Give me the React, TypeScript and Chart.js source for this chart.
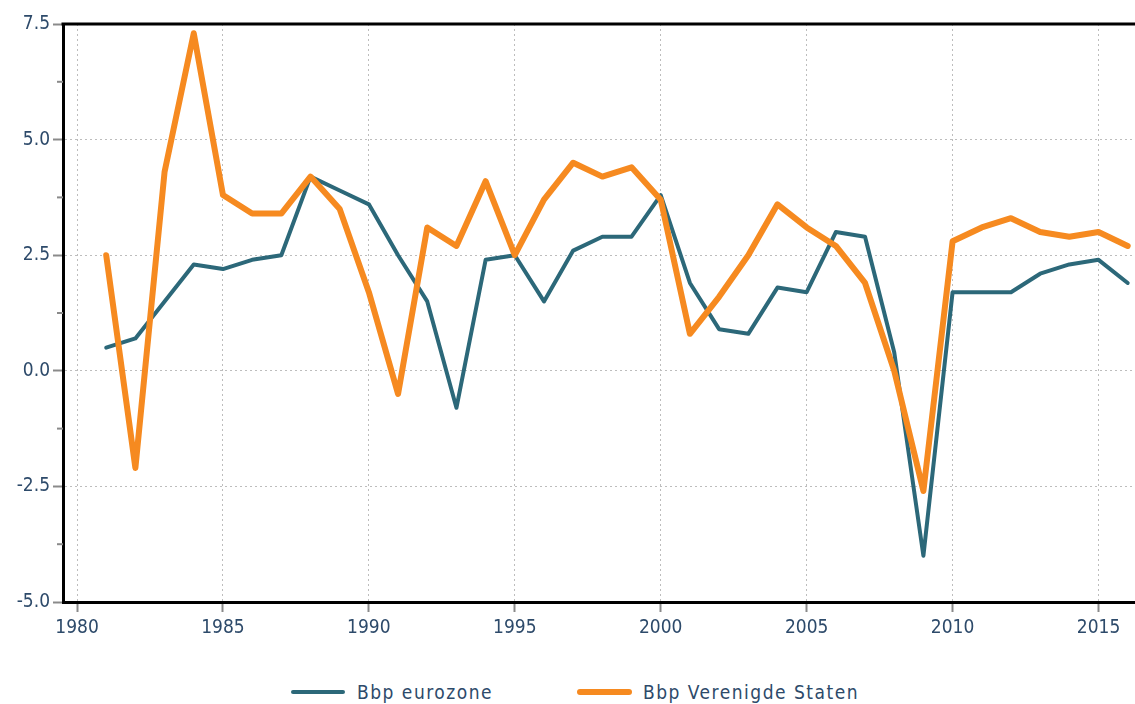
import React, { useEffect, useRef } from "react";
import { Chart, registerables } from "chart.js";

Chart.register(...registerables);

const years = [
  1981, 1982, 1983, 1984, 1985, 1986, 1987, 1988, 1989, 1990,
  1991, 1992, 1993, 1994, 1995, 1996, 1997, 1998, 1999, 2000,
  2001, 2002, 2003, 2004, 2005, 2006, 2007, 2008, 2009, 2010,
  2011, 2012, 2013, 2014, 2015, 2016,
];

const eurozone = [
  0.5, 0.7, 1.5, 2.3, 2.2, 2.4, 2.5, 4.2, 3.9, 3.6,
  2.5, 1.5, -0.8, 2.4, 2.5, 1.5, 2.6, 2.9, 2.9, 3.8,
  1.9, 0.9, 0.8, 1.8, 1.7, 3.0, 2.9, 0.4, -4.0, 1.7,
  1.7, 1.7, 2.1, 2.3, 2.4, 1.9,
];

const verenigdeStaten = [
  2.5, -2.1, 4.3, 7.3, 3.8, 3.4, 3.4, 4.2, 3.5, 1.7,
  -0.5, 3.1, 2.7, 4.1, 2.5, 3.7, 4.5, 4.2, 4.4, 3.7,
  0.8, 1.6, 2.5, 3.6, 3.1, 2.7, 1.9, 0.0, -2.6, 2.8,
  3.1, 3.3, 3.0, 2.9, 3.0, 2.7,
];

const seriesLabels = ["Bbp eurozone", "Bbp Verenigde Staten"];
const xTicks = [1980, 1985, 1990, 1995, 2000, 2005, 2010, 2015];
const yTicks = [-5, -2.5, 0, 2.5, 5, 7.5];
const yMinorTicks = [-3.75, -1.25, 1.25, 3.75, 6.25];
const xRange = [1979.52, 2016.25];
const yRange = [-5, 7.5];

const TEAL = "#2c6879";
const ORANGE = "#f68a20";
const LABEL = "#2d4a6a";
const FONT = "'DejaVu Sans Condensed', 'DejaVu Sans', sans-serif";

const framePlugin = {
  id: "frame",
  afterDraw(chart: any) {
    const { ctx, chartArea } = chart;
    const ys = chart.scales.y;
    ctx.save();
    ctx.strokeStyle = "#8a8a8a";
    ctx.lineWidth = 2;
    yMinorTicks.forEach((v) => {
      const p = ys.getPixelForValue(v);
      ctx.beginPath();
      ctx.moveTo(chartArea.left - 6, p);
      ctx.lineTo(chartArea.left, p);
      ctx.stroke();
    });
    ctx.strokeStyle = "#000";
    ctx.lineWidth = 3;
    ctx.beginPath();
    ctx.moveTo(chartArea.left - 1.5, chartArea.top);
    ctx.lineTo(chartArea.right, chartArea.top);
    ctx.stroke();
    ctx.restore();
  },
};

export default function App() {
  const ref = useRef<HTMLCanvasElement>(null);

  useEffect(() => {
    if (!ref.current) return;
    const chart = new Chart(ref.current, {
      type: "line",
      data: {
        datasets: [
          {
            label: seriesLabels[0],
            data: years.map((x, i) => ({ x, y: eurozone[i] })),
            borderColor: TEAL,
            borderWidth: 4,
            pointRadius: 0,
            tension: 0,
            borderJoinStyle: "round",
            borderCapStyle: "round",
            order: 2,
          },
          {
            label: seriesLabels[1],
            data: years.map((x, i) => ({ x, y: verenigdeStaten[i] })),
            borderColor: ORANGE,
            borderWidth: 6,
            pointRadius: 0,
            tension: 0,
            borderJoinStyle: "round",
            borderCapStyle: "round",
            order: 1,
          },
        ],
      },
      options: {
        animation: false,
        responsive: false,
        maintainAspectRatio: false,
        layout: { padding: { top: 24, right: 0, left: 0, bottom: 0 } },
        plugins: {
          legend: { display: false },
          tooltip: { enabled: false },
        },
        scales: {
          x: {
            type: "linear",
            min: xRange[0],
            max: xRange[1],
            afterBuildTicks: (s: any) => {
              s.ticks = xTicks.map((value) => ({ value }));
            },
            afterFit: (s: any) => {
              s.height = 43;
            },
            ticks: {
              color: LABEL,
              font: { family: FONT, size: 19 },
              padding: 5,
              maxRotation: 0,
              callback: (v: any) => String(v),
            },
            grid: {
              color: "#bdbdbd",
              lineWidth: 1,
              tickLength: 10,
              tickColor: "#8a8a8a",
              tickWidth: 2,
            },
            border: { color: "#000", width: 3, dash: [2, 3] },
          },
          y: {
            type: "linear",
            min: yRange[0],
            max: yRange[1],
            afterBuildTicks: (s: any) => {
              s.ticks = yTicks.map((value) => ({ value }));
            },
            afterFit: (s: any) => {
              s.width = 63;
            },
            ticks: {
              color: LABEL,
              font: { family: FONT, size: 19 },
              padding: 3,
              callback: (v: any) => Number(v).toFixed(1),
            },
            grid: {
              color: "#bdbdbd",
              lineWidth: 1,
              tickLength: 10,
              tickColor: "#8a8a8a",
              tickWidth: 2,
            },
            border: { color: "#000", width: 3, dash: [2, 3] },
          },
        },
      },
      plugins: [framePlugin],
    });
    return () => chart.destroy();
  }, []);

  const legendText: React.CSSProperties = {
    position: "absolute",
    top: 680,
    height: 24,
    lineHeight: "24px",
    fontFamily: "'DejaVu Sans Condensed', sans-serif",
    fontSize: 19,
    letterSpacing: "1.5px",
    color: LABEL,
    whiteSpace: "nowrap",
  };

  return (
    <div
      style={{
        position: "absolute",
        left: 0,
        top: 0,
        width: 1135,
        height: 704,
        background: "#fff",
        overflow: "hidden",
      }}
    >
      <canvas ref={ref} width={1135} height={645} style={{ display: "block" }} />
      <div style={{ position: "absolute", left: 291, top: 690, width: 54, height: 4, borderRadius: 2, background: TEAL }} />
      <div style={{ ...legendText, left: 357 }}>{seriesLabels[0]}</div>
      <div style={{ position: "absolute", left: 577, top: 689, width: 55, height: 6, borderRadius: 3, background: ORANGE }} />
      <div style={{ ...legendText, left: 643 }}>{seriesLabels[1]}</div>
    </div>
  );
}
